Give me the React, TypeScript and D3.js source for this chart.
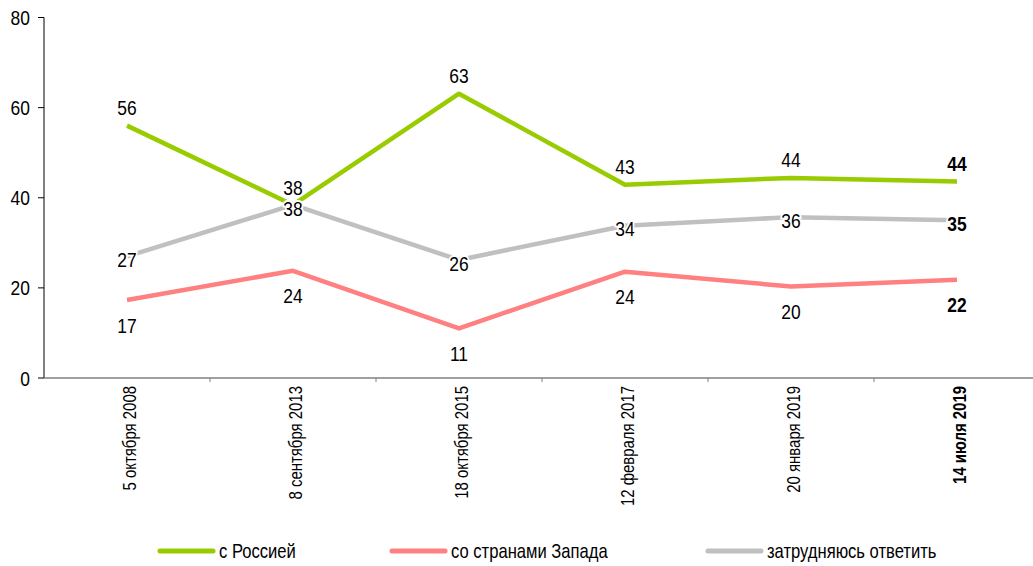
import React, { useEffect, useRef } from "react";
import * as d3 from "d3";

const categories = [
  "5 октября 2008",
  "8 сентября 2013",
  "18 октября 2015",
  "12 февраля 2017",
  "20 января 2019",
  "14 июля 2019",
];
const russia = [56, 38.4, 63.1, 42.9, 44.4, 43.6];
const west = [17.3, 23.8, 11.0, 23.6, 20.3, 21.8];
const undecided = [27.0, 38.4, 26.2, 33.8, 35.7, 35.0];
const yTicks = [0, 20, 40, 60, 80];

const seriesNames = ["с Россией", "со странами Запада", "затрудняюсь ответить"];
const seriesColors = ["#99CC00", "#FF8080", "#C0C0C0"];

const W = 1033;
const H = 566;
const FONT = "'Liberation Sans', Arial, sans-serif";
// the original uses a condensed face; squeeze glyphs horizontally
const SQUEEZE = 0.83;

const App = () => {
  const ref = useRef<SVGSVGElement>(null);

  useEffect(() => {
    const svg = d3.select(ref.current);
    svg.selectAll("*").remove();

    const x = d3.scaleBand<string>().domain(categories).range([44, 44 + 6 * 166]);
    const cx = (c: string) => (x(c) as number) + x.bandwidth() / 2;
    const y = d3.scaleLinear().domain([0, 80]).range([378, 17.5]);

    const label = (
      g: d3.Selection<any, unknown, null, undefined>,
      tx: number,
      ty: number,
      txt: string | number,
      size: number,
      anchor = "start",
      rotate = 0,
      bold = false
    ) =>
      g
        .append("text")
        .attr(
          "transform",
          `translate(${tx},${ty})${rotate ? ` rotate(${rotate})` : ""} scale(${SQUEEZE},1)`
        )
        .attr("text-anchor", anchor)
        .style("font-family", FONT)
        .style("font-size", `${size}px`)
        .style("font-weight", bold ? "bold" : "normal")
        .text(txt);

    // y axis
    const yAxis = svg.append("g");
    yAxis.append("line").attr("x1", 44).attr("x2", 44).attr("y1", y(80)).attr("y2", y(0)).attr("stroke", "#000");
    yTicks.forEach((t) => {
      yAxis.append("line").attr("x1", 38).attr("x2", 44).attr("y1", y(t)).attr("y2", y(t)).attr("stroke", "#000");
      label(yAxis, 30, y(t), t, 21, "end").attr("dy", "0.36em");
    });

    // x axis
    const xAxis = svg.append("g");
    xAxis.append("line").attr("x1", 44).attr("x2", W).attr("y1", y(0)).attr("y2", y(0)).attr("stroke", "#808080").attr("stroke-width", 1.5);
    categories.slice(1).forEach((c) => {
      xAxis.append("line").attr("x1", x(c)!).attr("x2", x(c)!).attr("y1", y(0)).attr("y2", y(0) + 4).attr("stroke", "#808080");
    });
    categories.forEach((c, i) => {
      label(xAxis, cx(c) + 9, 386, c, 18, "end", -90, i === categories.length - 1);
    });

    const line = d3
      .line<number>()
      .x((_, i) => cx(categories[i]))
      .y((d) => y(d));

    const all = [russia, west, undecided];
    const offsets = [-18, 25, 3];

    all.forEach((vals, s) => {
      svg
        .append("path")
        .attr("d", line(vals))
        .attr("fill", "none")
        .attr("stroke", seriesColors[s])
        .attr("stroke-width", 4.5)
        .attr("stroke-linejoin", "round");
    });

    all.forEach((vals, s) => {
      vals.forEach((v, i) => {
        label(svg as any, cx(categories[i]), y(v) + offsets[s], Math.round(v), 21, "middle", 0, i === vals.length - 1)
          .attr("dy", "0.36em")
          .style("paint-order", "stroke")
          .attr("stroke", "#fff")
          .attr("stroke-width", 4)
          .attr("fill", "#000");
      });
    });

    // legend
    const legendX = [158, 390, 706];
    const legend = svg.append("g");
    seriesNames.forEach((name, s) => {
      legend
        .append("line")
        .attr("x1", legendX[s] + 2)
        .attr("x2", legendX[s] + 55)
        .attr("y1", 551)
        .attr("y2", 551)
        .attr("stroke", seriesColors[s])
        .attr("stroke-width", 5)
        .attr("stroke-linecap", "round");
      label(legend, legendX[s] + 61, 551, name, 20).attr("dy", "0.36em");
    });
  }, []);

  return (
    <svg
      ref={ref}
      width={W}
      height={H}
      style={{ position: "absolute", left: 0, top: 0, background: "#fff" }}
    />
  );
};

export default App;
